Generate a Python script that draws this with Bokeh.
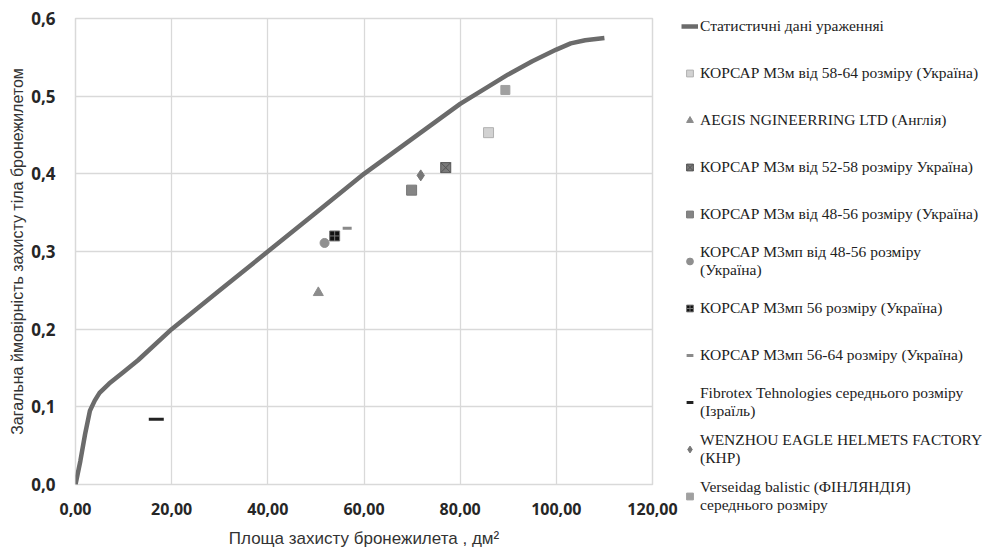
from bokeh.plotting import figure
from bokeh.models import Legend, LegendItem, FixedTicker, Range1d
from bokeh.embed import file_html
from bokeh.resources import INLINE

# ---- data ----
curve_name = "Статистичні дані ураженняі"
curve_x = [0, 1, 2, 3, 4, 5, 7, 10, 13, 20, 30, 40, 50, 60, 70, 80, 90, 95, 100, 103, 106, 110]
curve_y = [0.0, 0.03, 0.065, 0.095, 0.108, 0.118, 0.13, 0.145, 0.16, 0.2, 0.25, 0.3, 0.35, 0.4,
           0.445, 0.49, 0.528, 0.545, 0.56, 0.568, 0.572, 0.575]

point_names = [
    "КОРСАР М3м від 58-64 розміру (Україна)",
    "AEGIS NGINEERRING LTD (Англія)",
    "КОРСАР М3м від 52-58 розміру Україна)",
    "КОРСАР М3м від 48-56 розміру (Україна)",
    "КОРСАР М3мп від 48-56 розміру\n(Україна)",
    "КОРСАР М3мп 56 розміру (Україна)",
    "КОРСАР М3мп 56-64 розміру (Україна)",
    "Fibrotex Tehnologies середнього розміру\n(Ізраїль)",
    "WENZHOU EAGLE HELMETS FACTORY\n(КНР)",
    "Verseidag balistic (ФІНЛЯНДІЯ)\nсереднього розміру",
]
point_x = [85.9, 50.5, 77.0, 69.9, 51.8, 53.9, 56.5, 16.8, 71.8, 89.4]
point_y = [0.453, 0.247, 0.408, 0.379, 0.311, 0.320, 0.330, 0.084, 0.398, 0.508]

x_ticks = [0, 20, 40, 60, 80, 100, 120]
x_tick_labels = ["0,00", "20,00", "40,00", "60,00", "80,00", "100,00", "120,00"]
y_ticks = [0.0, 0.1, 0.2, 0.3, 0.4, 0.5, 0.6]
y_tick_labels = ["0,0", "0,1", "0,2", "0,3", "0,4", "0,5", "0,6"]

x_title = "Площа захисту бронежилета , дм²"
y_title = "Загальна ймовірність захисту тіла бронежилетом"

# ---- styles ----
markers = ["square", "triangle", "square_x", "square", "circle", "square_cross", "dash", "dash", "diamond", "square"]
fills = ["#d2d2d2", "#8c8c8c", "#7a7a7a", "#858585", "#8f8f8f", "#111111", "#8a8a8a", "#222222", "#777777", "#a0a0a0"]
lines = ["#b0b0b0", "#8c8c8c", "#555555", "#777777", "#8f8f8f", "#777777", "#8a8a8a", "#222222", "#777777", "#a0a0a0"]
sizes = [10, 10, 10, 10, 9, 10, 9, 15, 11, 9]
widths = [1, 1, 1, 1, 1, 1, 3, 3, 1, 1]

p = figure(frame_width=577, frame_height=466, output_backend="svg", toolbar_location=None,
           x_range=Range1d(0, 120), y_range=Range1d(0, 0.6),
           min_border_left=75, min_border_top=18, min_border_bottom=0, min_border_right=328)
p.background_fill_color = "white"
p.outline_line_color = "#d9d9d9"
p.outline_line_width = 1.5

for ax in (p.xaxis[0], p.yaxis[0]):
    ax.axis_line_color = None
    ax.major_tick_line_color = None
    ax.minor_tick_line_color = None
    ax.major_label_text_font = "Open Sans"
    ax.major_label_text_font_style = "bold"
    ax.major_label_text_font_size = "16px"
    ax.major_label_text_color = "#262626"
    ax.axis_label_text_font = "Liberation Sans"
    ax.axis_label_text_font_style = "normal"
    ax.axis_label_text_color = "#333333"

p.yaxis.major_label_text_font_size = "17px"
p.xaxis.ticker = FixedTicker(ticks=x_ticks)
p.yaxis.ticker = FixedTicker(ticks=y_ticks)
p.xaxis.major_label_overrides = dict(zip(x_ticks, x_tick_labels))
p.yaxis.major_label_overrides = dict(zip(y_ticks, y_tick_labels))
p.xaxis.axis_label = x_title
p.yaxis.axis_label = y_title
p.xaxis.axis_label_text_font_size = "17px"
p.yaxis.axis_label_text_font_size = "16px"
p.xaxis.major_label_standoff = 12
p.xaxis.axis_label_standoff = 11
p.yaxis.major_label_standoff = 14
p.yaxis.axis_label_standoff = 2

p.xgrid.grid_line_color = "#d9d9d9"
p.ygrid.grid_line_color = "#d9d9d9"
p.xgrid.grid_line_width = 1.3
p.ygrid.grid_line_width = 1.3

items = []
r = p.line(curve_x, curve_y, line_color="#6b6b6b", line_width=4.5)
items.append(LegendItem(label=curve_name, renderers=[r]))
for i in range(len(point_names)):
    r = p.scatter([point_x[i]], [point_y[i]], marker=markers[i], size=sizes[i],
                  fill_color=fills[i], line_color=lines[i], line_width=widths[i])
    items.append(LegendItem(label=point_names[i], renderers=[r]))

legend = Legend(items=items, location=(29, -30), margin=0, padding=0,
                border_line_color=None, background_fill_alpha=0,
                glyph_width=17, glyph_height=36, label_height=36, spacing=11,
                label_standoff=2, label_text_font="Liberation Serif",
                label_text_font_size="15.5px", label_text_color="#222222")
p.add_layout(legend, "right")

open("out.html", "w").write(file_html(p, INLINE))
